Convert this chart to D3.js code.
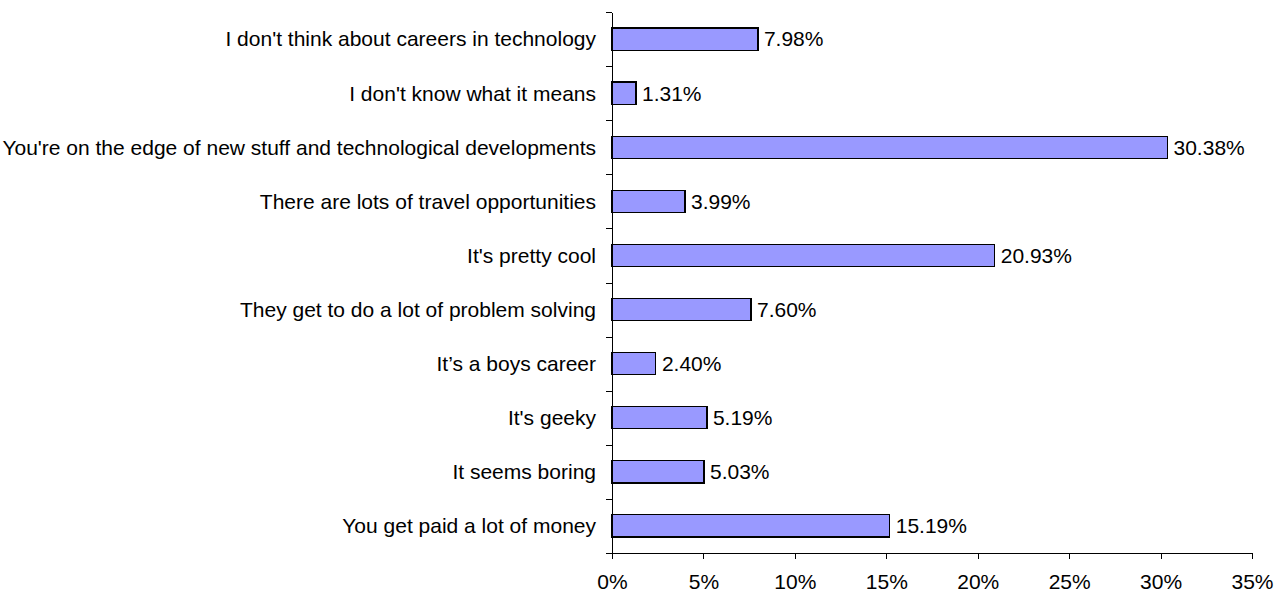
<!DOCTYPE html>
<html>
<head>
<meta charset="utf-8">
<script src="https://cdn.jsdelivr.net/npm/d3@7"></script>
<style>
  html, body { margin: 0; padding: 0; background: #fff; }
  svg text { font-family: "Liberation Sans", Arial, sans-serif; fill: #000; }
</style>
</head>
<body>
<svg id="chart" width="1285" height="592"></svg>
<script>
const categories = [
  "I don't think about careers in technology",
  "I don't know what it means",
  "You're on the edge of new stuff and technological developments",
  "There are lots of travel opportunities",
  "It's pretty cool",
  "They get to do a lot of problem solving",
  "It\u2019s a boys career",
  "It's geeky",
  "It seems boring",
  "You get paid a lot of money"
];
const values = [7.98, 1.31, 30.38, 3.99, 20.93, 7.60, 2.40, 5.19, 5.03, 15.19];
const xTicks = [0, 5, 10, 15, 20, 25, 30, 35];

const svg = d3.select("#chart");
const plotLeft = 612, plotRight = 1252, plotTop = 12, plotBottom = 553;
const fontSize = 21;

const x = d3.scaleLinear().domain([0, 35]).range([plotLeft, plotRight]);
const y = d3.scaleBand().domain(categories).range([plotTop, plotBottom])
  .paddingInner(0.59).paddingOuter(0.295);
const idx = d3.scaleLinear().domain([0, categories.length]).range([plotTop, plotBottom]);

// bars
svg.append("g").selectAll("rect").data(categories).join("rect")
  .attr("x", x(0))
  .attr("y", d => y(d))
  .attr("width", (d, i) => x(values[i]) - x(0))
  .attr("height", y.bandwidth())
  .attr("fill", "#9999ff")
  .attr("stroke", "#000")
  .attr("stroke-width", 1.2)
  .attr("shape-rendering", "crispEdges");

// value labels
svg.append("g").selectAll("text").data(categories).join("text")
  .attr("x", (d, i) => x(values[i]) + 6)
  .attr("y", d => y(d) + y.bandwidth() / 2)
  .attr("dy", "0.35em")
  .style("font-size", fontSize + "px")
  .text((d, i) => values[i].toFixed(2) + "%");

// y axis (ticks at category boundaries)
const yAxis = svg.append("g")
  .attr("transform", `translate(${plotLeft},0)`)
  .call(d3.axisLeft(idx).tickValues(d3.range(0, categories.length + 1)).tickFormat("").tickSize(6).tickSizeOuter(0));
yAxis.selectAll("path, line").attr("stroke", "#000").attr("shape-rendering", "crispEdges");

// category labels
svg.append("g").selectAll("text").data(categories).join("text")
  .attr("x", plotLeft - 16)
  .attr("y", d => y(d) + y.bandwidth() / 2)
  .attr("dy", "0.35em")
  .attr("text-anchor", "end")
  .style("font-size", fontSize + "px")
  .text(d => d);

// x axis
const xAxis = svg.append("g")
  .attr("transform", `translate(0,${plotBottom})`)
  .call(d3.axisBottom(x).tickValues(xTicks).tickFormat(d => d + "%").tickSize(6).tickSizeOuter(0));
xAxis.selectAll("path, line").attr("stroke", "#000").attr("shape-rendering", "crispEdges");
xAxis.selectAll("text")
  .attr("y", 36).attr("dy", null)
  .style("font-size", fontSize + "px")
  .style("font-family", "'Liberation Sans', Arial, sans-serif")
  .attr("fill", "#000");
</script>
</body>
</html>
